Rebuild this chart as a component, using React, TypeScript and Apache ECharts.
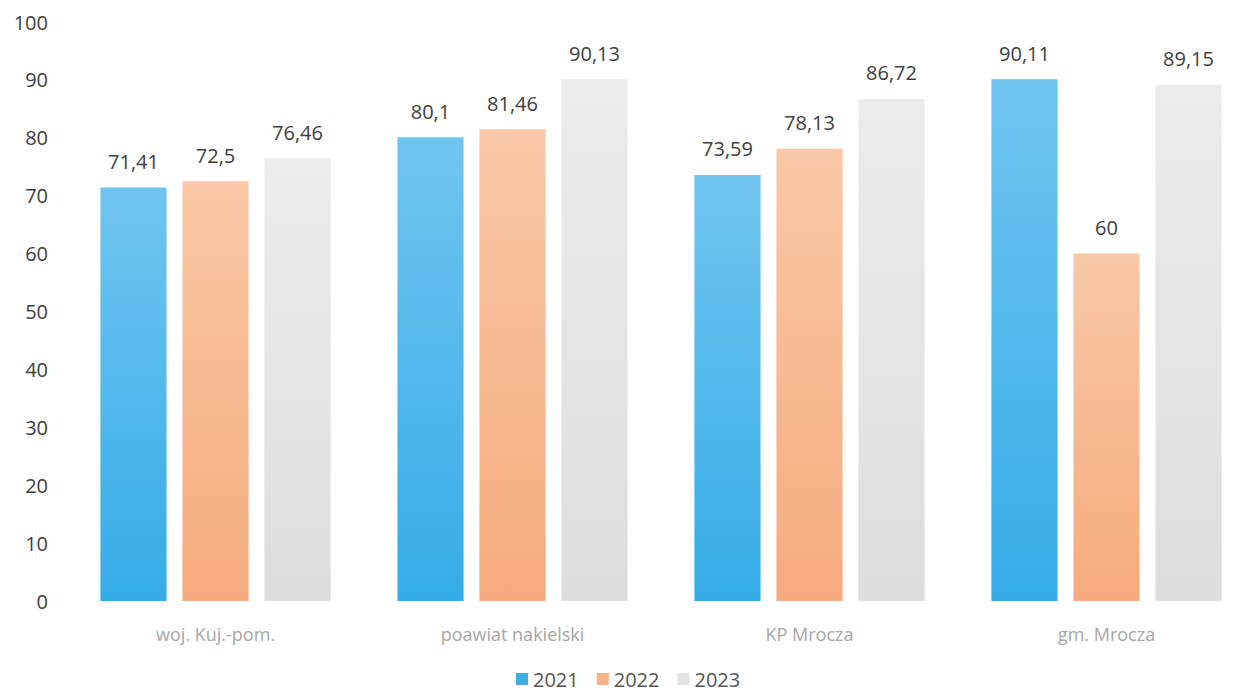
import React, { useEffect, useRef } from "react";
import * as echarts from "echarts";

const categories = ["woj. Kuj.-pom.", "poawiat nakielski", "KP Mrocza", "gm. Mrocza"];
const years = ["2021", "2022", "2023"];
const values2021 = [71.41, 80.1, 73.59, 90.11];
const values2022 = [72.5, 81.46, 78.13, 60];
const values2023 = [76.46, 90.13, 86.72, 89.15];
const yTicks = [0, 10, 20, 30, 40, 50, 60, 70, 80, 90, 100];

const grad = (top: string, bottom: string) =>
  new echarts.graphic.LinearGradient(0, 0, 0, 1, [
    { offset: 0, color: top },
    { offset: 1, color: bottom },
  ]);

export default function App() {
  const ref = useRef<HTMLDivElement>(null);
  useEffect(() => {
    if (!ref.current) return;
    const chart = echarts.init(ref.current, undefined, { renderer: "svg" });
    const seriesData = [values2021, values2022, values2023];
    const fills = [
      grad("#70c5ef", "#35ace8"),
      grad("#f9c8a6", "#f5ab7d"),
      grad("#ececec", "#dddddd"),
    ];
    const legendColors = ["#40ade5", "#f7b387", "#e3e3e3"];
    chart.setOption({
      animation: false,
      backgroundColor: "#ffffff",
      textStyle: { fontFamily: "Open Sans" },
      grid: { left: 67, top: 22, width: 1188, height: 579, containLabel: false },
      legend: {
        data: years.map((y, i) => ({ name: y, itemStyle: { color: legendColors[i] } })),
        top: 668,
        left: 516,
        padding: 0,
        itemWidth: 12,
        itemHeight: 12,
        itemGap: 18,
        icon: "rect",
        textStyle: { fontSize: 20, lineHeight: 22, color: "#555555", fontFamily: "Open Sans" },
      },
      xAxis: {
        type: "category",
        data: categories,
        axisLine: { show: false },
        axisTick: { show: false },
        axisLabel: { fontSize: 18, color: "#a6a6a6", margin: 24, fontFamily: "Open Sans" },
      },
      yAxis: {
        type: "value",
        min: yTicks[0],
        max: yTicks[yTicks.length - 1],
        interval: 10,
        splitLine: { show: false },
        axisLine: { show: false },
        axisTick: { show: false },
        axisLabel: { fontSize: 20, color: "#404040", margin: 19, fontFamily: "Open Sans" },
      },
      series: years.map((y, i) => ({
        name: y,
        type: "bar",
        data: seriesData[i],
        barGap: "24%",
        barCategoryGap: "22.5%",
        itemStyle: { color: fills[i] },
        label: {
          show: true,
          position: "top",
          distance: 16,
          fontSize: 20,
          color: "#404040",
          fontFamily: "Open Sans",
          formatter: (p: any) => String(p.value).replace(".", ","),
        },
      })),
    });
    return () => chart.dispose();
  }, []);
  return (
    <div style={{ position: "absolute", left: 0, top: 0, width: 1248, height: 696, overflow: "hidden" }}>
      <div ref={ref} style={{ width: 1264, height: 696 }} />
    </div>
  );
}
